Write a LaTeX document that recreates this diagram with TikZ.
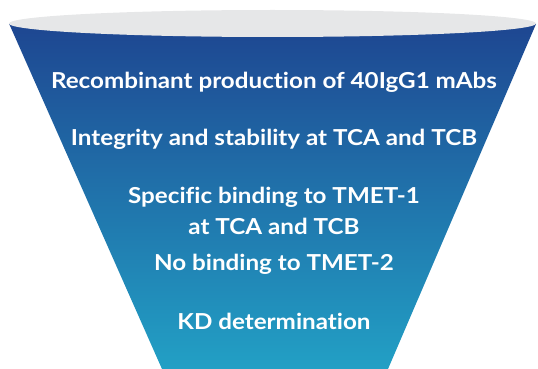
\documentclass[tikz,border=0pt]{standalone}
\usepackage{fontspec}
\setmainfont{Lato}[FakeStretch=1.1,Ligatures=NoCommon]
\begin{document}
\begin{tikzpicture}[x=1pt,y=-1pt,
  lbl/.style={text=white,font=\fontsize{22}{26}\selectfont\bfseries,align=center,inner sep=0pt}]
\definecolor{ftop}{RGB}{30,70,145}
\definecolor{fbot}{RGB}{34,160,197}
\definecolor{rim}{RGB}{230,231,232}
\useasboundingbox (0,0) rectangle (538,369);
\shade[top color=ftop,bottom color=fbot] (9,23.5) -- (536,24) -- (388,369) -- (162,369) -- cycle;
\fill[rim] (272.5,23.5) ellipse [x radius=263.5, y radius=13.5];
\node[lbl] (l1) at (274,82) {Recombinant production of 40IgG1 mAbs};
\node[lbl] (l2) at (274,139) {Integrity and stability at TCA and TCB};
\node[lbl] (l3) at (274,197) {Specific binding to TMET-1};
\node[lbl] (l4) at (274,226) {at TCA and TCB};
\node[lbl] (l5) at (274,264) {No binding to TMET-2};
\node[lbl] (l6) at (274,321) {KD determination};
\end{tikzpicture}
\end{document}
